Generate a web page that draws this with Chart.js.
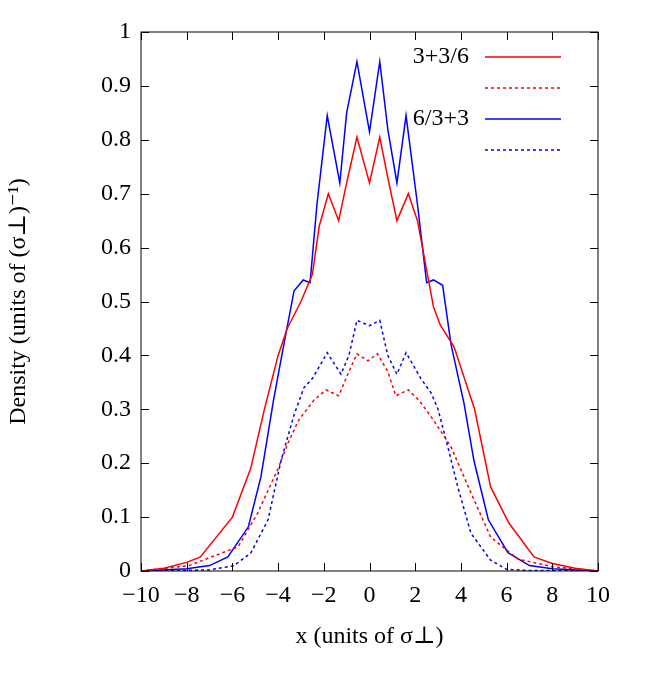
<!DOCTYPE html>
<html>
<head>
<meta charset="utf-8">
<script src="https://cdn.jsdelivr.net/npm/chart.js@4"></script>
<style>
  body { margin: 0; background: #fff; }
  #wrap { width: 664px; height: 692px; position: relative; }
</style>
</head>
<body>
<div id="wrap"><canvas id="graph" width="664" height="692"></canvas></div>
<script>
// Density profiles
const redSolidX = [-10, -9, -8, -7.4, -6, -5.2, -4.6, -4, -3.6, -3, -2.5, -2.2, -1.8, -1.35, -1, -0.55, 0, 0.45, 0.8, 1.2, 1.7, 2.1, 2.8, 3.1, 3.7, 4.6, 5.3, 6.1, 7.2, 8, 9, 10];
const redSolidY = [0, 0.005, 0.016, 0.026, 0.10, 0.19, 0.30, 0.40, 0.45, 0.50, 0.55, 0.64, 0.70, 0.65, 0.72, 0.805, 0.72, 0.805, 0.73, 0.65, 0.70, 0.65, 0.49, 0.456, 0.416, 0.30, 0.156, 0.089, 0.026, 0.014, 0.005, 0];

const redDotX = [-10, -7.9, -5.75, -4.9, -4, -3.57, -3.1, -2.43, -1.9, -1.35, -0.9, -0.55, -0.07, 0.35, 0.8, 1.15, 1.7, 2.2, 2.8, 3.57, 4.44, 5.3, 6.5, 8, 10];
const redDotY = [0, 0.01, 0.045, 0.107, 0.19, 0.237, 0.28, 0.317, 0.336, 0.325, 0.37, 0.403, 0.39, 0.403, 0.37, 0.325, 0.336, 0.315, 0.28, 0.23, 0.145, 0.063, 0.022, 0.008, 0];

const blueSolidX = [-10, -8, -7, -6.2, -5.3, -4.75, -4.2, -3.75, -3.3, -2.9, -2.6, -2.3, -1.85, -1.3, -1, -0.55, 0, 0.45, 0.8, 1.2, 1.6, 2.1, 2.5, 2.8, 3.2, 3.57, 4.14, 4.57, 5.2, 6.06, 7, 8, 10];
const blueSolidY = [0, 0.004, 0.01, 0.026, 0.082, 0.175, 0.317, 0.42, 0.52, 0.54, 0.535, 0.68, 0.845, 0.72, 0.85, 0.945, 0.815, 0.945, 0.82, 0.72, 0.845, 0.68, 0.535, 0.54, 0.53, 0.42, 0.31, 0.205, 0.095, 0.034, 0.01, 0.004, 0];

const blueDotX = [-10, -7, -5.93, -5.2, -4.44, -3.87, -3.3, -2.87, -2.5, -1.85, -1.25, -0.9, -0.55, 0, 0.45, 0.8, 1.2, 1.6, 2.25, 2.7, 3.0, 3.43, 3.87, 4.44, 5.3, 6, 7, 10];
const blueDotY = [0, 0.002, 0.01, 0.033, 0.095, 0.205, 0.29, 0.34, 0.357, 0.405, 0.365, 0.40, 0.465, 0.455, 0.465, 0.40, 0.365, 0.405, 0.357, 0.33, 0.30, 0.23, 0.155, 0.07, 0.02, 0.003, 0.001, 0];

const legendLabels = ['3+3/6', '', '6/3+3', ''];
const xTicks = [-10, -8, -6, -4, -2, 0, 2, 4, 6, 8, 10];

function pts(xs, ys) {
    return xs.map((x, i) => ({ x: x, y: ys[i] }));
}

const serif = '"Liberation Serif", "DejaVu Serif", serif';
const RED = '#ff0000';
const BLUE = '#0000ff';

// gnuplot-style frame, inward ticks, and legend
const framePlugin = {
    id: 'frame',
    afterDraw(chart) {
        const c = chart.ctx, a = chart.chartArea;
        const xs = chart.scales.x, ys = chart.scales.y;
        c.save();
        c.strokeStyle = '#000';
        c.lineWidth = 1;
        c.strokeRect(a.left, a.top, a.right - a.left, a.bottom - a.top);
        c.beginPath();
        xTicks.forEach(v => {
            const p = Math.round(xs.getPixelForValue(v)) + 0.5;
            c.moveTo(p, a.bottom); c.lineTo(p, a.bottom - 8);
            c.moveTo(p, a.top); c.lineTo(p, a.top + 8);
        });
        for (let i = 0; i <= 10; i++) {
            const p = Math.round(ys.getPixelForValue(i / 10)) + 0.5;
            c.moveTo(a.left, p); c.lineTo(a.left + 8, p);
            c.moveTo(a.right, p); c.lineTo(a.right - 8, p);
        }
        c.stroke();

        // legend
        c.font = '24px ' + serif;
        c.textAlign = 'right';
        c.textBaseline = 'middle';
        chart.data.datasets.forEach((ds, i) => {
            const y = 57 + i * 31;
            c.fillStyle = '#000';
            if (legendLabels[i]) c.fillText(legendLabels[i], 469, y);
            c.strokeStyle = ds.borderColor;
            c.lineWidth = 1.5;
            c.setLineDash(ds.borderDash || []);
            c.beginPath();
            c.moveTo(485, y); c.lineTo(561, y);
            c.stroke();
        });
        c.restore();
    }
};

const ds = (label, data, color, dash) => ({
    label: label,
    data: data,
    borderColor: color,
    backgroundColor: color,
    borderWidth: 1.5,
    borderDash: dash,
    pointRadius: 0,
    tension: 0,
    fill: false
});

new Chart(document.getElementById('graph'), {
    type: 'line',
    data: {
        datasets: [
            ds('3+3/6', pts(redSolidX, redSolidY), RED, []),
            ds('', pts(redDotX, redDotY), RED, [3, 3]),
            ds('6/3+3', pts(blueSolidX, blueSolidY), BLUE, []),
            ds('', pts(blueDotX, blueDotY), BLUE, [3, 3])
        ]
    },
    options: {
        responsive: false,
        animation: false,
        layout: { padding: { top: 32, right: 66, left: 0, bottom: 37 } },
        plugins: { legend: { display: false }, tooltip: { enabled: false } },
        scales: {
            x: {
                type: 'linear', min: -10, max: 10,
                afterBuildTicks: s => { s.ticks = xTicks.map(v => ({ value: v })); },
                afterFit: s => { s.height = 692 - 571 - 37; },
                grid: { display: false, drawTicks: false },
                border: { display: false },
                ticks: {
                    color: '#000', padding: 10,
                    font: { family: serif, size: 24 },
                    callback: v => (v < 0 ? '\u2212' + Math.abs(v) : String(v))
                },
                title: {
                    display: true, text: 'x (units of \u03c3\u22a5)', color: '#000',
                    font: { family: serif, size: 24 }, padding: { top: 6 }
                }
            },
            y: {
                min: 0, max: 1,
                afterFit: s => { s.width = 141; },
                grid: { display: false, drawTicks: false },
                border: { display: false },
                ticks: {
                    stepSize: 0.1, color: '#000', padding: 10,
                    font: { family: serif, size: 24 },
                    callback: v => String(Math.round(v * 10) / 10)
                },
                title: {
                    display: true, text: 'Density (units of (\u03c3\u22a5)\u207b\u00b9)', color: '#000',
                    font: { family: serif, size: 24 }, padding: { bottom: 6 }
                }
            }
        }
    },
    plugins: [framePlugin]
});
</script>
</body>
</html>
